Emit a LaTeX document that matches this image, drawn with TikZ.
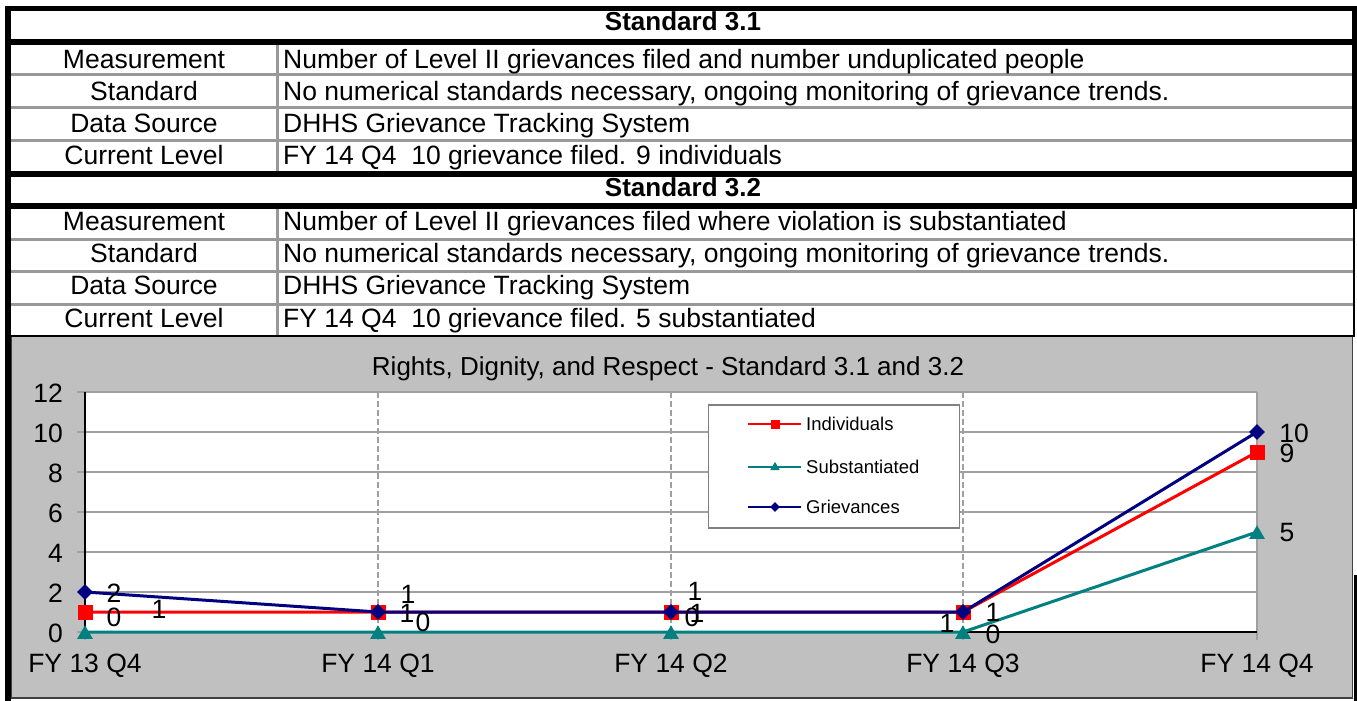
\documentclass[tikz,border=0pt]{standalone}
\usepackage{fontspec}
\setmainfont{Liberation Sans}
\usetikzlibrary{shapes.geometric}
\definecolor{chartbg}{HTML}{C0C0C0}
\definecolor{gridgray}{HTML}{A0A0A0}
\definecolor{rulegray}{HTML}{999999}
\definecolor{serred}{HTML}{FF0000}
\definecolor{serteal}{HTML}{008080}
\definecolor{sernavy}{HTML}{000080}
\begin{document}
\begin{tikzpicture}[x=1pt,y=-1pt,
  txt/.style={font=\fontsize{26.5}{31}\selectfont, inner sep=0pt, anchor=base},
  ttl/.style={font=\bfseries\fontsize{26}{31}\selectfont, inner sep=0pt, anchor=base},
  val/.style={txt, anchor=base west},
  dlab/.style={font=\fontsize{26.5}{31}\selectfont, inner sep=0pt, anchor=center},
  leg/.style={font=\fontsize{18.5}{22}\selectfont, inner sep=0pt, anchor=base west},
  thick black rule/.style={black, line width=6},
  grayrule/.style={rulegray, line width=3},
  grid line/.style={gridgray, line width=1.5},
  vdash/.style={gridgray, line width=2, dash pattern=on 6 off 3},
  redline/.style={serred, line width=3},
  tealline/.style={serteal, line width=3},
  navyline/.style={sernavy, line width=3},
  sqmark/.style={fill=serred, draw=none, rectangle, minimum size=15, inner sep=0},
  trimark/.style={fill=serteal, draw=none, regular polygon, regular polygon sides=3, minimum size=18, inner sep=0},
  dimark/.style={fill=sernavy, draw=none, diamond, aspect=1, minimum size=16, inner sep=0},
  sqsmall/.style={sqmark, minimum size=9},
  trismall/.style={trimark, minimum size=11},
  dismall/.style={dimark, minimum size=10},
]
\useasboundingbox (0,0) rectangle (1357,701);
\fill[white] (0,0) rectangle (1357,701);

% ---------------- table ----------------
\foreach \y in {74.5,107.5,140.5,239,271.5,304}
  \draw[grayrule] (11,\y) -- (1353,\y);
\draw[grayrule] (277.5,45) -- (277.5,171);
\draw[grayrule] (277.5,209) -- (277.5,335);
\draw[black, line width=5] (5,8.5) -- (1357,8.5);
\foreach \y in {42,174,206}
  \draw[thick black rule] (5,\y) -- (1357,\y);
\draw[black, line width=5] (1354.5,6) -- (1354.5,209);
\draw[black, line width=2] (1353.5,209) -- (1353.5,337);
\draw[black, line width=2] (11,336) -- (1354,336);

\node[ttl] (t31) at (683,31) {Standard 3.1};
\node[txt] (m1l) at (144,68) {Measurement};
\node[txt] (s1l) at (144,100) {Standard};
\node[txt] (d1l) at (144,132) {Data Source};
\node[txt] (c1l) at (144,164) {Current Level};
\node[val] (m1v) at (283,68) {Number of Level II grievances filed and number unduplicated people};
\node[val] (s1v) at (283,100) {No numerical standards necessary, ongoing monitoring of grievance trends.};
\node[val] (d1v) at (283,132) {DHHS Grievance Tracking System};
\node[val] (c1v) at (283,164) {FY 14 Q4\ \ 10 grievance filed. 9 individuals};

\node[ttl] (t32) at (683,196) {Standard 3.2};
\node[txt] (m2l) at (144,230) {Measurement};
\node[txt] (s2l) at (144,262) {Standard};
\node[txt] (d2l) at (144,294) {Data Source};
\node[txt] (c2l) at (144,327) {Current Level};
\node[val] (m2v) at (283,230) {Number of Level II grievances filed where violation is substantiated};
\node[val] (s2v) at (283,262) {No numerical standards necessary, ongoing monitoring of grievance trends.};
\node[val] (d2v) at (283,294) {DHHS Grievance Tracking System};
\node[val] (c2v) at (283,327) {FY 14 Q4\ \ 10 grievance filed. 5 substantiated};

% ---------------- chart ----------------
\fill[chartbg] (11,337) rectangle (1352,697);
\draw[black!75, line width=1.5] (11,698) -- (1353,698);
\draw[black!75, line width=1.5] (11.5,337) -- (11.5,698);
\draw[black!75, line width=1.5] (1352.5,337) -- (1352.5,698);
\draw[black, line width=3] (1355.5,575) -- (1355.5,701);
\draw[black, line width=6] (8,6) -- (8,701);

\node[font=\fontsize{26}{31}\selectfont, inner sep=0, anchor=base] (ctitle) at (668,375)
  {Rights, Dignity, and Respect - Standard 3.1 and 3.2};

\fill[white] (85,392) rectangle (1257,632);
\foreach \y in {392,432,472,512,552,592}
  \draw[grid line] (85,\y) -- (1257,\y);
\foreach \y/\v in {392/12,432/10,472/8,512/6,552/4,592/2,632/0}{
  \draw[grid line] (77,\y) -- (85,\y);
  \node[font=\fontsize{26.5}{31}\selectfont, inner sep=0, anchor=east] at (63,\y+1) {\v};
}
\foreach \x in {378,671,963}
  \draw[vdash] (\x,392) -- (\x,640);
\draw[grid line] (1257,392) -- (1257,640);
\foreach \x in {85,378,671,963}
  \draw[grid line] (\x,632) -- (\x,640);
\draw[black, line width=1.5] (85,392) -- (85,632);
\draw[black, line width=1.5] (85,632) -- (1257,632);

\node[txt] (x0) at (85,672) {FY 13 Q4};
\node[txt] (x1) at (378,672) {FY 14 Q1};
\node[txt] (x2) at (671,672) {FY 14 Q2};
\node[txt] (x3) at (963,672) {FY 14 Q3};
\node[txt] (x4) at (1257,672) {FY 14 Q4};

% series points
\coordinate (i0) at (85,612);  \coordinate (i1) at (378,612); \coordinate (i2) at (671,612);
\coordinate (i3) at (963,612); \coordinate (i4) at (1257,452);
\coordinate (s0) at (85,632);  \coordinate (s1) at (378,632); \coordinate (s2) at (671,632);
\coordinate (s3) at (963,632); \coordinate (s4) at (1257,532);
\coordinate (g0) at (85,592);  \coordinate (g1) at (378,612); \coordinate (g2) at (671,612);
\coordinate (g3) at (963,612); \coordinate (g4) at (1257,432);

\draw[redline] (i0) -- (i1) -- (i2) -- (i3) -- (i4);
\foreach \p in {i0,i1,i2,i3,i4} \node[sqmark] at (\p) {};
\draw[tealline] (s0) -- (s1) -- (s2) -- (s3) -- (s4);
\foreach \p in {s0,s1,s2,s3,s4} \node[trimark, yshift=-2.25] at (\p) {};
\draw[navyline] (g0) -- (g1) -- (g2) -- (g3) -- (g4);
\foreach \p in {g0,g1,g2,g3,g4} \node[dimark] at (\p) {};

% data labels
\node[dlab] at (114,593) {2};
\node[dlab] at (114,617) {0};
\node[dlab] at (159,609) {1};
\node[dlab] at (408,594) {1};
\node[dlab] at (407,613) {1};
\node[dlab] at (423,622) {0};
\node[dlab] at (695,591) {1};
\node[dlab] at (692,617) {0};
\node[dlab] at (697,613) {1};
\node[dlab] at (947,623) {1};
\node[dlab] at (993,612) {1};
\node[dlab] at (993,634) {0};
\node[dlab] at (1294,433) {10};
\node[dlab] at (1287,453) {9};
\node[dlab] at (1287,533) {5};

% legend
\node[draw=gray, line width=1.5, fill=white, minimum width=251, minimum height=123, inner sep=0, anchor=north west] (legend) at (707.5,404) {};
\coordinate (la) at (748,424); \coordinate (lb) at (801,424);
\draw[serred, line width=2] (la) -- (lb); \node[sqsmall] at (775,424) {};
\node[leg] at (806,430) {Individuals};
\coordinate (lc) at (748,467); \coordinate (ld) at (801,467);
\draw[serteal, line width=2] (lc) -- (ld); \node[trismall, yshift=-1.4] at (775,466) {};
\node[leg] at (806,473) {Substantiated};
\coordinate (le) at (748,507); \coordinate (lf) at (801,507);
\draw[sernavy, line width=2] (le) -- (lf); \node[dismall] at (775,507) {};
\node[leg] at (806,513) {Grievances};
\end{tikzpicture}
\end{document}
